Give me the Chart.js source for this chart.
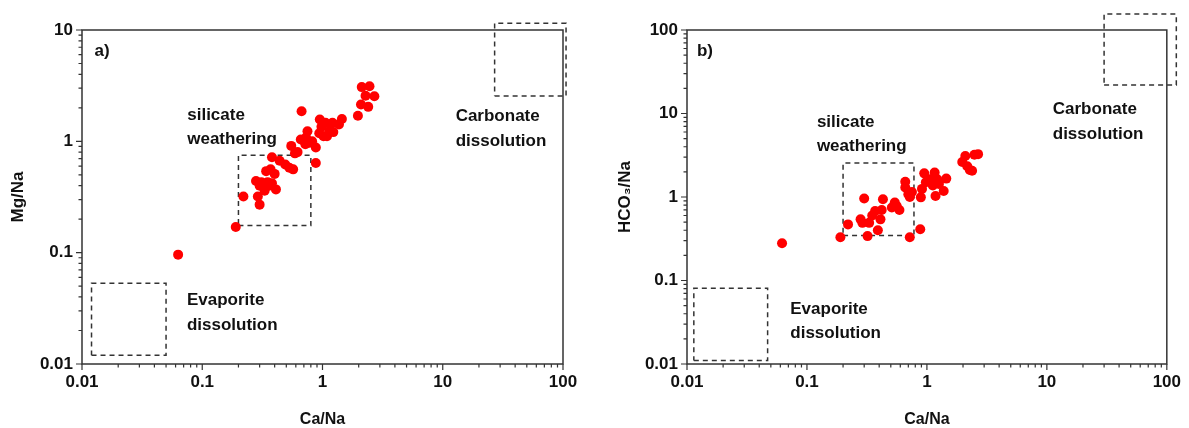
<!DOCTYPE html>
<html>
<head>
<meta charset="utf-8">
<script src="https://cdn.jsdelivr.net/npm/chart.js@4.4.1/dist/chart.umd.min.js"></script>
<style>
  html, body { margin: 0; padding: 0; background: #fff; }
  #wrap { position: relative; width: 1189px; height: 428px; }
  canvas { position: absolute; top: 0; }
  #chartA { left: 0; }
  #chartB { left: 595px; }
</style>
</head>
<body>
<div id="wrap">
  <canvas id="chartA" width="595" height="428"></canvas>
  <canvas id="chartB" width="594" height="428"></canvas>
</div>
<script>
// a) Mg/Na against Ca/Na
const caNaA = [0.063, 0.19, 0.22, 0.29, 0.30, 0.28, 0.31, 0.33, 0.35, 0.33, 0.38, 0.41, 0.34, 0.37, 0.40,
  0.38, 0.44, 0.49, 0.55, 0.53, 0.57, 0.59, 0.67, 0.66, 0.72, 0.73, 0.75, 0.82, 0.88, 0.88, 0.95, 0.94,
  1.02, 1.06, 1.09, 1.14, 1.21, 1.23, 1.37, 1.45, 1.97, 2.09, 2.12, 2.46, 2.28, 2.70, 2.40,
  0.36, 0.30, 0.78, 0.98, 1.16, 0.62];
const mgNa = [0.096, 0.17, 0.32, 0.32, 0.27, 0.44, 0.43, 0.38, 0.43, 0.36, 0.42, 0.37, 0.54, 0.56, 0.51,
  0.72, 0.67, 0.62, 0.91, 0.58, 0.56, 0.78, 1.86, 1.04, 0.94, 1.08, 1.23, 1.00, 0.88, 0.64, 1.57, 1.18,
  1.11, 1.47, 1.11, 1.23, 1.47, 1.21, 1.42, 1.59, 1.70, 2.14, 3.07, 3.12, 2.57, 2.54, 2.04,
  0.40, 0.40, 0.97, 1.35, 1.40, 0.80];

// b) HCO3/Na against Ca/Na
const caNaB = [0.062, 0.19, 0.22, 0.28, 0.29, 0.30, 0.32, 0.33, 0.35, 0.37, 0.39, 0.41, 0.42, 0.43, 0.51,
  0.54, 0.56, 0.59, 0.66, 0.66, 0.70, 0.72, 0.72, 0.75, 0.88, 0.89, 0.91, 0.95, 0.98, 1.06, 1.12, 1.16,
  1.12, 1.18, 1.22, 1.26, 1.38, 1.45, 1.97, 2.09, 2.17, 2.28, 2.38, 2.49, 2.67];
const hco3Na = [0.28, 0.33, 0.47, 0.54, 0.49, 0.96, 0.34, 0.49, 0.60, 0.68, 0.40, 0.54, 0.70, 0.94, 0.75,
  0.86, 0.78, 0.70, 1.52, 1.30, 1.08, 1.00, 0.33, 1.15, 0.41, 0.99, 1.25, 1.92, 1.50, 1.63, 1.52, 1.96,
  1.37, 1.03, 1.63, 1.43, 1.18, 1.66, 2.62, 3.09, 2.34, 2.11, 2.06, 3.21, 3.26];

// tick labels
const xTicks = [0.01, 0.1, 1, 10, 100];
const yTicksA = [0.01, 0.1, 1, 10];
const yTicksB = [0.01, 0.1, 1, 10, 100];

// dashed end-member fields: [x min, x max, y min, y max]
const evaporiteA = [0.012, 0.05, 0.012, 0.053];
const silicateA = [0.2, 0.8, 0.175, 0.75];
const carbonateA = [27, 106, 2.55, 11.5];
const evaporiteB = [0.0114, 0.047, 0.011, 0.081];
const silicateB = [0.2, 0.78, 0.345, 2.55];
const carbonateB = [30, 120, 22, 155];

const FONT = '"Liberation Sans", Arial, sans-serif';
Chart.defaults.font.family = FONT;
Chart.defaults.color = '#111';

function logTicks(majors) {
  const ticks = [];
  majors.forEach(function (v, i) {
    if (i === majors.length - 1) {
      ticks.push({ value: v });
      return;
    }
    for (let m = 1; m < 10; m++) ticks.push({ value: Number((m * v).toPrecision(3)) });
  });
  return ticks;
}

function points(xs, ys) {
  return xs.map((x, i) => ({ x: x, y: ys[i] }));
}

function boxDataset(b) {
  return {
    type: 'line',
    data: [{ x: b[0], y: b[2] }, { x: b[1], y: b[2] }, { x: b[1], y: b[3] }, { x: b[0], y: b[3] }, { x: b[0], y: b[2] }],
    borderColor: '#333',
    borderWidth: 1.5,
    borderDash: [5, 4],
    pointRadius: 0,
    fill: false,
    tension: 0,
    clip: false
  };
}

function axes(yMajors, yTitle, yWidth, yTitlePad) {
  return {
    x: {
      type: 'logarithmic',
      min: 0.01,
      max: 100,
      grid: { display: false, drawTicks: false },
      border: { display: false },
      afterBuildTicks: s => { s.ticks = logTicks(xTicks); },
      afterFit: s => { s.height = 64; },
      ticks: {
        autoSkip: false, maxRotation: 0, padding: 8,
        font: { size: 17, weight: 'bold' },
        callback: v => xTicks.includes(v) ? String(v) : ''
      },
      title: { display: true, text: 'Ca/Na', font: { size: 16, weight: 'bold', lineHeight: 1 }, padding: 0 }
    },
    y: {
      type: 'logarithmic',
      min: yMajors[0],
      max: yMajors[yMajors.length - 1],
      grid: { display: false, drawTicks: false },
      border: { display: false },
      afterBuildTicks: s => { s.ticks = logTicks(yMajors); },
      afterFit: s => { s.width = yWidth; },
      ticks: {
        autoSkip: false, padding: 9,
        font: { size: 17, weight: 'bold' },
        callback: v => yMajors.includes(v) ? String(v) : ''
      },
      title: { display: true, text: yTitle, font: { size: 17, weight: 'bold' }, padding: { top: yTitlePad, bottom: 0 } }
    }
  };
}

// frame, tick marks and the text notes
const decor = {
  id: 'decor',
  afterDraw(chart, args, opts) {
    const { ctx, chartArea: a, scales: { x, y } } = chart;
    ctx.save();
    ctx.strokeStyle = '#333';
    ctx.lineWidth = 1.5;
    ctx.strokeRect(a.left, a.top, a.right - a.left, a.bottom - a.top);
    ctx.lineWidth = 1.2;
    ctx.beginPath();
    x.ticks.forEach(t => {
      const px = x.getPixelForValue(t.value);
      const len = xTicks.includes(t.value) ? 6 : 3.5;
      ctx.moveTo(px, a.bottom);
      ctx.lineTo(px, a.bottom + len);
    });
    const yMajors = opts.yMajors;
    y.ticks.forEach(t => {
      const py = y.getPixelForValue(t.value);
      const len = yMajors.includes(t.value) ? 6 : 3.5;
      ctx.moveTo(a.left, py);
      ctx.lineTo(a.left - len, py);
    });
    ctx.stroke();

    ctx.fillStyle = '#111';
    ctx.font = 'bold 17px ' + FONT;
    ctx.textAlign = 'left';
    ctx.textBaseline = 'middle';
    opts.notes.forEach(n => {
      const px = x.getPixelForValue(n.x);
      const py = y.getPixelForValue(n.y);
      n.text.forEach((line, i) => ctx.fillText(line, px, py + i * 24.5));
    });
    ctx.restore();
  }
};

function makeChart(id, data, boxes, yMajors, yTitle, yWidth, yTitlePad, padRight, notes) {
  return new Chart(document.getElementById(id), {
    type: 'scatter',
    data: {
      datasets: [{
        data: data,
        backgroundColor: '#ff0000',
        borderWidth: 0,
        pointRadius: 5
      }].concat(boxes.map(boxDataset))
    },
    options: {
      responsive: false,
      animation: false,
      events: [],
      layout: { padding: { left: 0, top: 30, right: padRight, bottom: 0 } },
      scales: axes(yMajors, yTitle, yWidth, yTitlePad),
      plugins: {
        legend: { display: false },
        tooltip: { enabled: false },
        decor: { yMajors: yMajors, notes: notes }
      }
    },
    plugins: [decor]
  });
}

makeChart('chartA', points(caNaA, mgNa), [evaporiteA, silicateA, carbonateA], yTicksA, 'Mg/Na', 82, 8, 32, [
  { x: 0.0127, y: 6.5, text: ['a)'] },
  { x: 0.075, y: 1.73, text: ['silicate', 'weathering'] },
  { x: 12.8, y: 1.67, text: ['Carbonate', 'dissolution'] },
  { x: 0.0746, y: 0.037, text: ['Evaporite', 'dissolution'] }
]);

makeChart('chartB', points(caNaB, hco3Na), [evaporiteB, silicateB, carbonateB], yTicksB, 'HCO\u2083/Na', 92, 20, 20, [
  { x: 0.0121, y: 56, text: ['b)'] },
  { x: 0.121, y: 7.85, text: ['silicate', 'weathering'] },
  { x: 11.2, y: 11.2, text: ['Carbonate', 'dissolution'] },
  { x: 0.0726, y: 0.0452, text: ['Evaporite', 'dissolution'] }
]);
</script>
</body>
</html>
